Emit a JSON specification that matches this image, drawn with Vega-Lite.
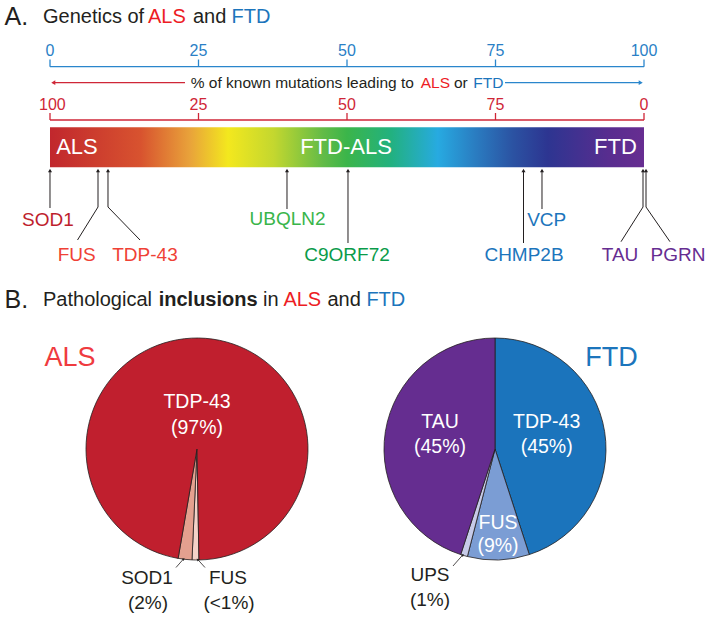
{
  "$schema": "https://vega.github.io/schema/vega-lite/v6.json",
  "width": 711,
  "height": 619,
  "autosize": {"type": "fit", "contains": "padding"},
  "padding": 0,
  "background": "white",
  "config": {"view": {"stroke": null}, "font": "Liberation Sans", "text": {"font": "Liberation Sans"}},
  "encoding": {
    "x": {"field": "x", "type": "quantitative", "scale": {"domain": [-8.4175, 111.2795], "nice": false, "zero": false}, "axis": null},
    "y": {"field": "y", "type": "quantitative", "scale": {"domain": [0, 61.9], "reverse": true, "nice": false, "zero": false}, "axis": null}
  },
  "resolve": {"scale": {"theta": "independent", "color": "independent"}},
  "layer": [
    {
      "data": {"values": [{"x": 0, "x2": 100, "y": 12.73, "y2": 16.73}]},
      "mark": {"type": "rect", "color": {"gradient": "linear", "x1": 0, "x2": 1, "y1": 0, "y2": 0, "stops": [
        {"offset": 0, "color": "#c1272d"},
        {"offset": 0.153, "color": "#d8532f"},
        {"offset": 0.237, "color": "#e9a43a"},
        {"offset": 0.30, "color": "#f3e81e"},
        {"offset": 0.377, "color": "#c3d72f"},
        {"offset": 0.46, "color": "#62bb47"},
        {"offset": 0.50, "color": "#3bb54a"},
        {"offset": 0.574, "color": "#22b17f"},
        {"offset": 0.653, "color": "#27aae1"},
        {"offset": 0.714, "color": "#2a7ec2"},
        {"offset": 0.78, "color": "#2b52a2"},
        {"offset": 0.838, "color": "#2d3591"},
        {"offset": 0.94, "color": "#582d8f"},
        {"offset": 1, "color": "#672d91"}
      ]}},
      "encoding": {"x2": {"field": "x2"}, "y2": {"field": "y2"}}
    },
    {
      "data": {"values": [
        {"x": 4.545, "y": 14.73, "t": "ALS"},
        {"x": 49.832, "y": 14.73, "t": "FTD-ALS"},
        {"x": 95.202, "y": 14.73, "t": "FTD"}
      ]},
      "mark": {"type": "text", "fontSize": 22, "color": "white", "align": "center", "baseline": "middle"},
      "encoding": {"text": {"field": "t"}}
    },
    {
      "data": {"values": [
        {"x": 0, "y": 6.67, "x2": 100, "y2": 6.67},
        {"x": 0, "y": 5.95, "x2": 0, "y2": 6.67},
        {"x": 25, "y": 5.95, "x2": 25, "y2": 6.67},
        {"x": 50, "y": 5.95, "x2": 50, "y2": 6.67},
        {"x": 75, "y": 5.95, "x2": 75, "y2": 6.67},
        {"x": 100, "y": 5.95, "x2": 100, "y2": 6.67},
        {"x": 76.599, "y": 8.27, "x2": 99.2, "y2": 8.27}
      ]},
      "mark": {"type": "rule", "color": "#2a86cc", "strokeWidth": 1.3},
      "encoding": {"x2": {"field": "x2"}, "y2": {"field": "y2"}}
    },
    {
      "data": {"values": [
        {"x": 0, "y": 12.0, "x2": 100, "y2": 12.0},
        {"x": 0, "y": 11.3, "x2": 0, "y2": 12.0},
        {"x": 25, "y": 11.3, "x2": 25, "y2": 12.0},
        {"x": 50, "y": 11.3, "x2": 50, "y2": 12.0},
        {"x": 75, "y": 11.3, "x2": 75, "y2": 12.0},
        {"x": 100, "y": 11.3, "x2": 100, "y2": 12.0},
        {"x": 0.8, "y": 8.27, "x2": 22.727, "y2": 8.27}
      ]},
      "mark": {"type": "rule", "color": "#cf2637", "strokeWidth": 1.3},
      "encoding": {"x2": {"field": "x2"}, "y2": {"field": "y2"}}
    },
    {
      "data": {"values": [{"x": 0.55, "y": 8.27}]},
      "mark": {"type": "point", "shape": "triangle-left", "filled": true, "size": 22, "color": "#cf2637", "opacity": 1},
      "encoding": {}
    },
    {
      "data": {"values": [{"x": 99.45, "y": 8.27}]},
      "mark": {"type": "point", "shape": "triangle-right", "filled": true, "size": 22, "color": "#2a86cc", "opacity": 1},
      "encoding": {}
    },
    {
      "data": {"values": [
        {"x": 0, "y": 5.07, "t": "0", "tone": "FTD"},
        {"x": 25, "y": 5.07, "t": "25", "tone": "FTD"},
        {"x": 50, "y": 5.07, "t": "50", "tone": "FTD"},
        {"x": 75, "y": 5.07, "t": "75", "tone": "FTD"},
        {"x": 100, "y": 5.07, "t": "100", "tone": "FTD"},
        {"x": 0.4, "y": 10.5, "t": "100", "tone": "ALS"},
        {"x": 25, "y": 10.5, "t": "25", "tone": "ALS"},
        {"x": 50, "y": 10.5, "t": "50", "tone": "ALS"},
        {"x": 75, "y": 10.5, "t": "75", "tone": "ALS"},
        {"x": 100, "y": 10.5, "t": "0", "tone": "ALS"}
      ]},
      "mark": {"type": "text", "fontSize": 16, "align": "center", "baseline": "middle"},
      "encoding": {
        "text": {"field": "t"},
        "color": {"field": "tone", "type": "nominal", "scale": {"domain": ["ALS", "FTD"], "range": ["#cf2637", "#2a7fc6"]}, "legend": null}
      }
    },
    {
      "data": {"values": [
        {"x": 23.687, "y": 8.27, "t": "% of known mutations leading to", "tone": "ink"},
        {"x": 62.407, "y": 8.27, "t": "ALS", "tone": "ALS"},
        {"x": 68.013, "y": 8.27, "t": "or", "tone": "ink"},
        {"x": 71.263, "y": 8.27, "t": "FTD", "tone": "FTD"}
      ]},
      "mark": {"type": "text", "fontSize": 15.5, "align": "left", "baseline": "middle"},
      "encoding": {
        "text": {"field": "t"},
        "color": {"field": "tone", "type": "nominal", "scale": {"domain": ["ink", "ALS", "FTD"], "range": ["#231f20", "#ed1c24", "#1c75bc"]}, "legend": null}
      }
    },
    {
      "data": {"values": [
        {"x": -7.66, "y": 1.65, "t": "A."},
        {"x": -7.66, "y": 30.0, "t": "B."}
      ]},
      "mark": {"type": "text", "fontSize": 25, "align": "left", "baseline": "middle", "color": "#231f20"},
      "encoding": {"text": {"field": "t"}}
    },
    {
      "data": {"values": [
        {"x": -1.178, "y": 1.65, "t": "Genetics of", "tone": "ink"},
        {"x": 16.498, "y": 1.65, "t": "ALS", "tone": "ALS"},
        {"x": 24.074, "y": 1.65, "t": "and", "tone": "ink"},
        {"x": 30.55, "y": 1.65, "t": "FTD", "tone": "FTD"},
        {"x": -1.178, "y": 30.0, "t": "Pathological", "tone": "ink"},
        {"x": 35.859, "y": 30.0, "t": "in", "tone": "ink"},
        {"x": 39.293, "y": 30.0, "t": "ALS", "tone": "ALS"},
        {"x": 46.7, "y": 30.0, "t": "and", "tone": "ink"},
        {"x": 53.266, "y": 30.0, "t": "FTD", "tone": "FTD"}
      ]},
      "mark": {"type": "text", "fontSize": 20, "align": "left", "baseline": "middle"},
      "encoding": {
        "text": {"field": "t"},
        "color": {"field": "tone", "type": "nominal", "scale": {"domain": ["ink", "ALS", "FTD"], "range": ["#231f20", "#ed1c24", "#1c75bc"]}, "legend": null}
      }
    },
    {
      "data": {"values": [{"x": 18.3, "y": 30.0, "t": "inclusions"}]},
      "mark": {"type": "text", "fontSize": 20, "fontWeight": "bold", "align": "left", "baseline": "middle", "color": "#231f20"},
      "encoding": {"text": {"field": "t"}}
    },
    {
      "data": {"values": [
        {"x": 0, "y": 17.0, "x2": 0, "y2": 20.8},
        {"x": 8.081, "y": 17.0, "x2": 8.081, "y2": 20.7},
        {"x": 8.081, "y": 20.7, "x2": 4.63, "y2": 24.0},
        {"x": 9.764, "y": 17.0, "x2": 9.764, "y2": 20.7},
        {"x": 9.764, "y": 20.7, "x2": 15.152, "y2": 24.0},
        {"x": 39.899, "y": 17.0, "x2": 39.899, "y2": 20.9},
        {"x": 50.168, "y": 17.0, "x2": 50.168, "y2": 24.3},
        {"x": 79.714, "y": 17.0, "x2": 79.714, "y2": 24.3},
        {"x": 82.828, "y": 17.0, "x2": 82.828, "y2": 20.9},
        {"x": 99.832, "y": 17.0, "x2": 99.832, "y2": 20.7},
        {"x": 99.832, "y": 20.7, "x2": 96.128, "y2": 24.17},
        {"x": 100.337, "y": 17.0, "x2": 100.337, "y2": 20.7},
        {"x": 100.337, "y": 20.7, "x2": 104.377, "y2": 24.17}
      ]},
      "mark": {"type": "rule", "color": "#231f20", "strokeWidth": 1},
      "encoding": {"x2": {"field": "x2"}, "y2": {"field": "y2"}}
    },
    {
      "data": {"values": [
        {"x": 0, "y": 17.05}, {"x": 8.081, "y": 17.05}, {"x": 9.764, "y": 17.05},
        {"x": 39.899, "y": 17.05}, {"x": 50.168, "y": 17.05}, {"x": 79.714, "y": 17.05},
        {"x": 82.828, "y": 17.05}, {"x": 99.832, "y": 17.05}, {"x": 100.337, "y": 17.05}
      ]},
      "mark": {"type": "point", "shape": "triangle-up", "filled": true, "size": 16, "color": "#231f20", "opacity": 1},
      "encoding": {}
    },
    {
      "data": {"values": [
        {"x": -0.337, "y": 22.0, "t": "SOD1", "g": "SOD1"},
        {"x": 4.495, "y": 25.5, "t": "FUS", "g": "FUS"},
        {"x": 15.993, "y": 25.5, "t": "TDP-43", "g": "FUS"},
        {"x": 39.983, "y": 21.9, "t": "UBQLN2", "g": "UBQLN2"},
        {"x": 50.0, "y": 25.5, "t": "C9ORF72", "g": "C9ORF72"},
        {"x": 79.798, "y": 25.5, "t": "CHMP2B", "g": "VCP"},
        {"x": 83.62, "y": 22.0, "t": "VCP", "g": "VCP"},
        {"x": 95.96, "y": 25.5, "t": "TAU", "g": "TAU"},
        {"x": 105.724, "y": 25.5, "t": "PGRN", "g": "TAU"}
      ]},
      "mark": {"type": "text", "fontSize": 19, "align": "center", "baseline": "middle"},
      "encoding": {
        "text": {"field": "t"},
        "color": {"field": "g", "type": "nominal", "scale": {"domain": ["SOD1", "FUS", "UBQLN2", "C9ORF72", "VCP", "TAU"], "range": ["#be1e2d", "#ef4136", "#39b54a", "#0a9b4a", "#1c75bc", "#662d91"]}, "legend": null}
      }
    },
    {
      "data": {"values": [
        {"x": 3.367, "y": 35.8, "t": "ALS", "tone": "ALS"},
        {"x": 94.529, "y": 35.8, "t": "FTD", "tone": "FTD"}
      ]},
      "mark": {"type": "text", "fontSize": 27, "align": "center", "baseline": "middle"},
      "encoding": {
        "text": {"field": "t"},
        "color": {"field": "tone", "type": "nominal", "scale": {"domain": ["ALS", "FTD"], "range": ["#ef3b3f", "#1c75bc"]}, "legend": null}
      }
    },
    {
      "data": {"values": [
        {"x": 24.747, "y": 44.9, "slice": "FUS", "v": 1, "o": 1},
        {"x": 24.747, "y": 44.9, "slice": "SOD1", "v": 2, "o": 2},
        {"x": 24.747, "y": 44.9, "slice": "TDP-43", "v": 97, "o": 3}
      ]},
      "mark": {"type": "arc", "radius": 111, "stroke": "#231f20", "strokeWidth": 0.8},
      "encoding": {
        "theta": {"field": "v", "type": "quantitative", "stack": true, "scale": {"range": [3.124, 9.407]}},
        "order": {"field": "o", "type": "quantitative"},
        "color": {"field": "slice", "type": "nominal", "scale": {"domain": ["TDP-43", "SOD1", "FUS"], "range": ["#c01f2e", "#e4a08f", "#f4d2c8"]}, "legend": null}
      }
    },
    {
      "data": {"values": [
        {"x": 74.916, "y": 44.9, "slice": "TDP-43", "v": 45, "o": 1},
        {"x": 74.916, "y": 44.9, "slice": "FUS", "v": 9, "o": 2},
        {"x": 74.916, "y": 44.9, "slice": "UPS", "v": 1, "o": 3},
        {"x": 74.916, "y": 44.9, "slice": "TAU", "v": 45, "o": 4}
      ]},
      "mark": {"type": "arc", "radius": 111, "stroke": "#231f20", "strokeWidth": 0.8},
      "encoding": {
        "theta": {"field": "v", "type": "quantitative", "stack": true},
        "order": {"field": "o", "type": "quantitative"},
        "color": {"field": "slice", "type": "nominal", "scale": {"domain": ["TDP-43", "FUS", "UPS", "TAU"], "range": ["#1b74bc", "#7b9dd4", "#c7cbe8", "#652d90"]}, "legend": null}
      }
    },
    {
      "data": {"values": [
        {"x": 24.747, "y": 40.17, "t": "TDP-43"},
        {"x": 24.747, "y": 42.83, "t": "(97%)"},
        {"x": 65.657, "y": 42.17, "t": "TAU"},
        {"x": 65.657, "y": 44.67, "t": "(45%)"},
        {"x": 83.62, "y": 42.17, "t": "TDP-43"},
        {"x": 83.62, "y": 44.67, "t": "(45%)"},
        {"x": 75.421, "y": 52.27, "t": "FUS"},
        {"x": 75.421, "y": 54.6, "t": "(9%)"}
      ]},
      "mark": {"type": "text", "fontSize": 19.5, "align": "center", "baseline": "middle", "color": "white"},
      "encoding": {"text": {"field": "t"}}
    },
    {
      "data": {"values": [
        {"x": 16.33, "y": 57.83, "t": "SOD1"},
        {"x": 16.498, "y": 60.33, "t": "(2%)"},
        {"x": 29.966, "y": 57.83, "t": "FUS"},
        {"x": 30.135, "y": 60.33, "t": "(<1%)"},
        {"x": 63.973, "y": 57.5, "t": "UPS"},
        {"x": 63.973, "y": 60.0, "t": "(1%)"}
      ]},
      "mark": {"type": "text", "fontSize": 19, "align": "center", "baseline": "middle", "color": "#231f20"},
      "encoding": {"text": {"field": "t"}}
    },
    {
      "data": {"values": [
        {"x": 21.212, "y": 56.75, "x2": 22.4, "y2": 55.95},
        {"x": 26.094, "y": 56.75, "x2": 24.95, "y2": 56.0},
        {"x": 67.845, "y": 56.6, "x2": 69.4, "y2": 55.55}
      ]},
      "mark": {"type": "rule", "color": "#231f20", "strokeWidth": 0.8},
      "encoding": {"x2": {"field": "x2"}, "y2": {"field": "y2"}}
    },
    {
      "data": {"values": [{"x": 22.5, "y": 55.9}]},
      "mark": {"type": "point", "shape": "triangle-up", "filled": true, "size": 9, "angle": 50, "color": "#231f20", "opacity": 1},
      "encoding": {}
    },
    {
      "data": {"values": [{"x": 24.85, "y": 55.95}]},
      "mark": {"type": "point", "shape": "triangle-up", "filled": true, "size": 9, "angle": 310, "color": "#231f20", "opacity": 1},
      "encoding": {}
    },
    {
      "data": {"values": [{"x": 69.5, "y": 55.5}]},
      "mark": {"type": "point", "shape": "triangle-up", "filled": true, "size": 9, "angle": 45, "color": "#231f20", "opacity": 1},
      "encoding": {}
    }
  ]
}
